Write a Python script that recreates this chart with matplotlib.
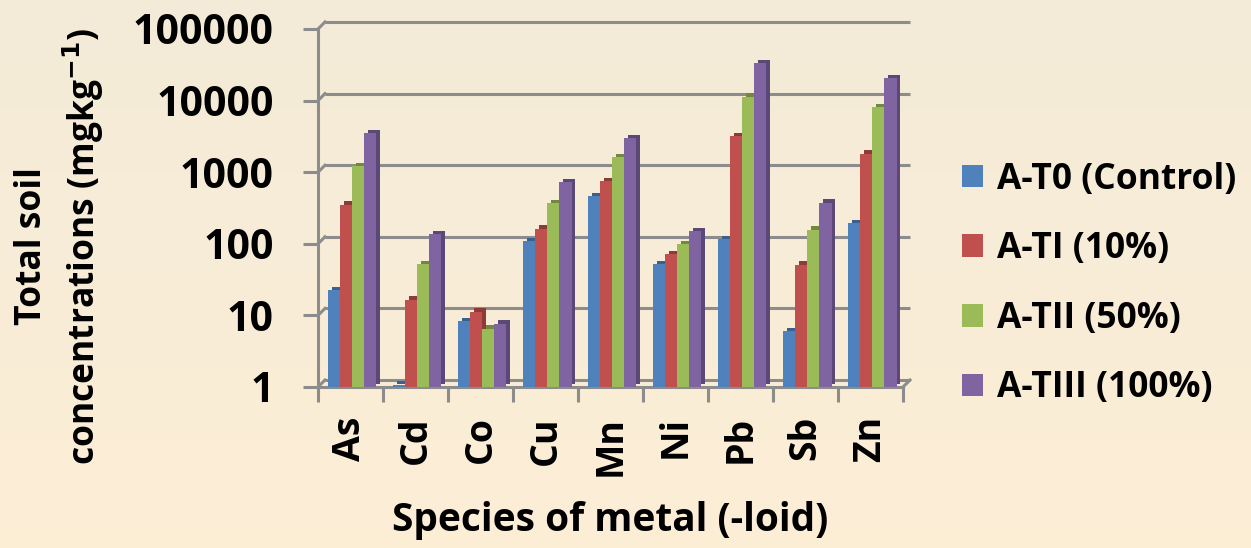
import numpy as np
import matplotlib
matplotlib.use("Agg")
import matplotlib.pyplot as plt
import matplotlib.transforms as mtransforms
from matplotlib.patches import Patch
from matplotlib.lines import Line2D

metals = ["As", "Cd", "Co", "Cu", "Mn", "Ni", "Pb", "Sb", "Zn"]
series_names = ["A-T0 (Control)", "A-TI (10%)", "A-TII (50%)", "A-TIII (100%)"]
t0 = [22.3, 1.08, 8.3, 108, 458, 52, 115, 6.0, 195]
t1 = [350, 16.5, 11.2, 162, 743, 71, 3190, 51, 1807]
t2 = [1210, 52, 6.5, 366, 1605, 99, 11400, 157, 8010]
t3 = [3500, 136, 7.6, 727, 2990, 150, 33300, 374, 20500]
yticks = [1, 10, 100, 1000, 10000, 100000]
ytick_labels = ["1", "10", "100", "1000", "10000", "100000"]

colors = ["#4F81BD", "#C0504D", "#9BBB59", "#8064A2"]
dark = ["#3A6090", "#8E3A38", "#71893F", "#5C4877"]
axis_gray = "#8C8C8C"

plt.rcParams["font.family"] = ["Open Sans", "DejaVu Sans"]
plt.rcParams["font.weight"] = "bold"

W, H = 1251, 548
fig = plt.figure(figsize=(W / 100, H / 100), dpi=100)

# background gradient
bg = fig.add_axes([0, 0, 1, 1], zorder=-10)
top_c = np.array([0.953, 0.922, 0.847])
bot_c = np.array([0.992, 0.933, 0.839])
grad = np.linspace(0, 1, 256)[:, None, None]
img = top_c * (1 - grad) + bot_c * grad
img = np.repeat(img, 2, axis=1)
bg.imshow(img, aspect="auto", extent=[0, 1, 0, 1])
bg.axis("off")

ax = fig.add_axes([318 / W, 1 - 387 / H, (903 - 318) / W, (387 - 29) / H])
ax.set_facecolor("none")
ax.set_yscale("log")
ax.set_ylim(1, 100000)
ax.set_xlim(0, len(metals))

d = 7 / 100.0  # 3D depth offset (inches)
off = mtransforms.ScaledTranslation(d, d, fig.dpi_scale_trans)
bar_off = mtransforms.ScaledTranslation(3.5 / 100, 3.5 / 100, fig.dpi_scale_trans)

# back wall gridlines
for v in yticks:
    ax.plot([0, len(metals)], [v, v], color=axis_gray, lw=2.2,
            transform=ax.transData + off, zorder=1, clip_on=False, solid_capstyle="butt")

# floor front edge and diagonals
ax.plot([0, len(metals)], [1, 1], color=axis_gray, lw=2.2, zorder=1, clip_on=False)
fig.canvas.draw()
for xv, yv in [(0, v) for v in yticks] + [(len(metals), 1)]:
    p0 = ax.transData.transform((xv, yv))
    p1 = p0 + np.array([7, 7])
    ax.add_line(Line2D([p0[0], p1[0]], [p0[1], p1[1]], color=axis_gray, lw=2.2,
                       transform=None, zorder=1, clip_on=False))

x = np.arange(len(metals))
w = 0.185
data = [t0, t1, t2, t3]
for j, vals in enumerate(data):
    xs = x + 0.5 + (j - 1.5) * w + 0.03
    ax.bar(xs, np.array(vals) - 1, w, bottom=1, color=dark[j], zorder=2 + j * 0.1,
           transform=ax.transData + bar_off)
for j, vals in enumerate(data):
    xs = x + 0.5 + (j - 1.5) * w + 0.03
    ax.bar(xs, np.array(vals) - 1, w, bottom=1, color=colors[j], zorder=3 + j * 0.1,
           label=series_names[j])

# spines
for s in ["top", "right", "bottom"]:
    ax.spines[s].set_visible(False)
ax.spines["left"].set_color(axis_gray)
ax.spines["left"].set_linewidth(2.2)

ax.set_yticks(yticks)
ax.set_yticklabels(ytick_labels)
ax.yaxis.set_minor_locator(matplotlib.ticker.NullLocator())
ax.tick_params(axis="y", which="major", length=11, width=2.2, color=axis_gray,
               labelsize=29.5, pad=21)

ax.set_xticks(x + 0.5)
ax.set_xticklabels(metals, rotation=90, va="top")
ax.set_xticks(np.arange(len(metals) + 1), minor=True)
ax.tick_params(axis="x", which="major", length=0, labelsize=27, pad=21)
ax.tick_params(axis="x", which="minor", length=11, width=2.2, color=axis_gray)
for lab in ax.get_xticklabels() + ax.get_yticklabels():
    lab.set_fontweight("bold")

ax.set_xlabel("Species of metal (-loid)", fontsize=28, fontweight="bold", labelpad=18)
fig.text(60 / W, 1 - 246 / H, "Total soil\nconcentrations (mgkg$^{\\mathbf{-1}}$)",
         rotation=90, ha="center", va="center", fontsize=25.5, fontweight="bold",
         multialignment="center", linespacing=1.3)

handles = [Patch(facecolor=c, edgecolor="none") for c in colors]
fig.legend(handles, series_names, loc="center left", bbox_to_anchor=(962 / W, 1 - 284 / H),
           frameon=False, prop={"size": 25.5, "weight": "bold"}, handlelength=0.6,
           handleheight=0.6, handletextpad=0.4, labelspacing=0.95, borderpad=0,
           borderaxespad=0)

fig.savefig("out.png", dpi=100)
